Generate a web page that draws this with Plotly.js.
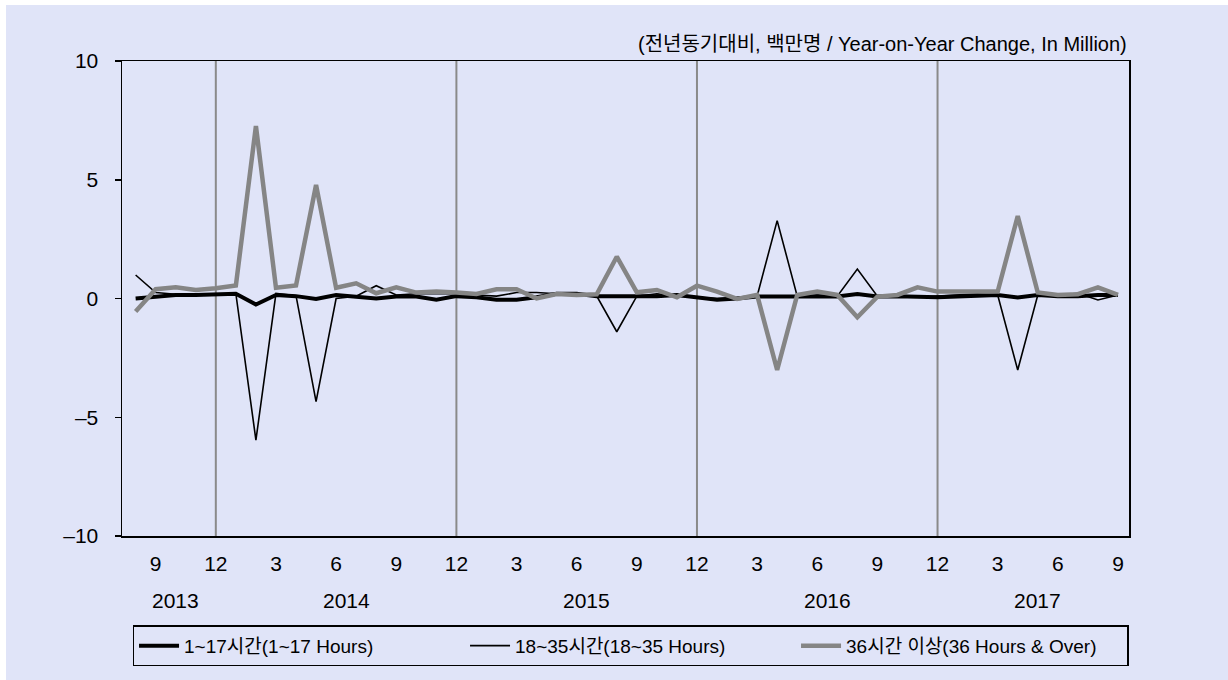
<!DOCTYPE html>
<html>
<head>
<meta charset="utf-8">
<script src="https://cdn.plot.ly/plotly-3.0.1.min.js"></script>
<style>
  html, body { margin: 0; padding: 0; background: #ffffff; width: 1228px; height: 680px; overflow: hidden; }
  #chart { position: absolute; left: 6px; top: 5px; width: 1222px; height: 675px; }
</style>
</head>
<body>
<div id="chart"></div>
<script>
// Months: Aug 2013 .. Sep 2017
const categories = [
  "2013-08","2013-09","2013-10","2013-11","2013-12",
  "2014-01","2014-02","2014-03","2014-04","2014-05","2014-06","2014-07","2014-08","2014-09","2014-10","2014-11","2014-12",
  "2015-01","2015-02","2015-03","2015-04","2015-05","2015-06","2015-07","2015-08","2015-09","2015-10","2015-11","2015-12",
  "2016-01","2016-02","2016-03","2016-04","2016-05","2016-06","2016-07","2016-08","2016-09","2016-10","2016-11","2016-12",
  "2017-01","2017-02","2017-03","2017-04","2017-05","2017-06","2017-07","2017-08","2017-09"
];

const hours1to17 = [
  0.00, 0.08, 0.15, 0.15, 0.19,
  0.20, -0.25, 0.15, 0.10, -0.02, 0.15, 0.08, 0.00, 0.08, 0.08, -0.05, 0.10,
  0.05, -0.05, -0.05, 0.05, 0.20, 0.20, 0.10, 0.10, 0.10, 0.10, 0.15, 0.05,
  -0.05, 0.00, 0.08, 0.08, 0.08, 0.08, 0.08, 0.19, 0.08, 0.10, 0.08, 0.05,
  0.08, 0.10, 0.15, 0.04, 0.15, 0.10, 0.10, 0.15, 0.15
];

const hours18to35 = [
  0.99, 0.25, 0.18, 0.18, 0.20,
  0.20, -5.96, 0.22, 0.12, -4.34, 0.00, 0.10, 0.54, 0.15, 0.20, 0.20, 0.20,
  0.15, 0.10, 0.25, 0.25, 0.20, 0.15, 0.10, -1.40, 0.10, 0.20, 0.10, 0.05,
  0.00, 0.05, 0.10, 3.28, 0.10, 0.15, 0.10, 1.24, 0.10, 0.10, 0.05, 0.10,
  0.15, 0.20, 0.15, -3.01, 0.15, 0.15, 0.22, -0.06, 0.15
];

const hours36plus = [
  -0.55, 0.39, 0.47, 0.36, 0.43,
  0.55, 7.26, 0.45, 0.55, 4.78, 0.45, 0.64, 0.22, 0.47, 0.25, 0.29, 0.25,
  0.19, 0.39, 0.39, 0.00, 0.19, 0.15, 0.18, 1.76, 0.26, 0.36, 0.05, 0.54,
  0.29, -0.02, 0.15, -3.01, 0.15, 0.29, 0.15, -0.79, 0.08, 0.15, 0.47, 0.29,
  0.29, 0.29, 0.29, 3.47, 0.25, 0.15, 0.18, 0.47, 0.15
];

const seriesNames = ["1~17시간(1~17 Hours)", "18~35시간(18~35 Hours)", "36시간 이상(36 Hours & Over)"];
const monthTickCats = ["2013-09","2013-12","2014-03","2014-06","2014-09","2014-12","2015-03","2015-06","2015-09","2015-12","2016-03","2016-06","2016-09","2016-12","2017-03","2017-06","2017-09"];
const monthTickText = ["9","12","3","6","9","12","3","6","9","12","3","6","9","12","3","6","9"];
const yearLabels = ["2013","2014","2015","2016","2017"];
const yearCenters = ["2013-10","2014-07","2015-07","2016-07","2017-05"];
const yearOffsets = [0, -0.5, -0.5, -0.5, 0];
const dividerCats = ["2013-12","2014-12","2015-12","2016-12"];
const yTicks = [-10, -5, 0, 5, 10];
const yTickText = ["\u201310", "\u20135", "0", "5", "10"];
const unitNote = "(전년동기대비, 백만명 / Year-on-Year Change, In Million)";

const idx = c => categories.indexOf(c);
const xs = categories.map((c, i) => i);
const FONT = "Liberation Sans, Arial, 'Noto Sans CJK KR', sans-serif";

const traces = [
  { x: xs, y: hours1to17, name: seriesNames[0], type: "scatter", mode: "lines",
    line: { color: "#000000", width: 4 } },
  { x: xs, y: hours18to35, name: seriesNames[1], type: "scatter", mode: "lines",
    line: { color: "#000000", width: 1.6 } },
  { x: xs, y: hours36plus, name: seriesNames[2], type: "scatter", mode: "lines",
    line: { color: "#858585", width: 4.5 } }
];

const shapes = dividerCats.map(c => ({
  type: "line", xref: "x", yref: "paper", x0: idx(c), x1: idx(c), y0: 0, y1: 1,
  line: { color: "#8a8a8a", width: 2 }, layer: "below"
}));

const annotations = yearLabels.map((t, k) => ({
  x: idx(yearCenters[k]) + yearOffsets[k], xref: "x", y: -0.135, yref: "paper",
  text: t, showarrow: false, xanchor: "center", yanchor: "middle",
  font: { family: FONT, size: 21, color: "#000" }
}));
annotations.push({
  x: 1, xref: "paper", y: 1.008, yref: "paper", text: unitNote, showarrow: false,
  xanchor: "right", yanchor: "bottom", font: { family: FONT, size: 20, color: "#000" }
});

const layout = {
  width: 1222, height: 675,
  margin: { l: 116, r: 99, t: 56, b: 144, autoexpand: false },
  paper_bgcolor: "#e0e4f8", plot_bgcolor: "#e0e4f8",
  font: { family: FONT, size: 21, color: "#000" },
  showlegend: true,
  legend: {
    orientation: "h", x: 0.505, xanchor: "center", y: -0.188, yanchor: "top",
    bordercolor: "#000", borderwidth: 1.5, bgcolor: "#e0e4f8",
    font: { family: FONT, size: 19, color: "#000" },
    entrywidth: 276, entrywidthmode: "pixels", itemwidth: 40
  },
  xaxis: {
    range: [-0.68, 49.55], showgrid: false, zeroline: false,
    showline: true, linecolor: "#000", linewidth: 1.5, mirror: true,
    tickmode: "array", tickvals: monthTickCats.map(idx), ticktext: monthTickText,
    ticks: "", ticklabelstandoff: 8, tickfont: { family: FONT, size: 21 }
  },
  yaxis: {
    range: [-10, 10], showgrid: false, zeroline: false,
    showline: true, linecolor: "#000", linewidth: 1.5, mirror: true,
    tickmode: "array", tickvals: yTicks, ticktext: yTickText,
    ticks: "outside", ticklen: 6, tickwidth: 1.5, tickcolor: "#000",
    ticklabelstandoff: 12, tickfont: { family: FONT, size: 21 }
  },
  shapes: shapes,
  annotations: annotations
};

Plotly.newPlot("chart", traces, layout, { displayModeBar: false, staticPlot: true });
</script>
</body>
</html>
